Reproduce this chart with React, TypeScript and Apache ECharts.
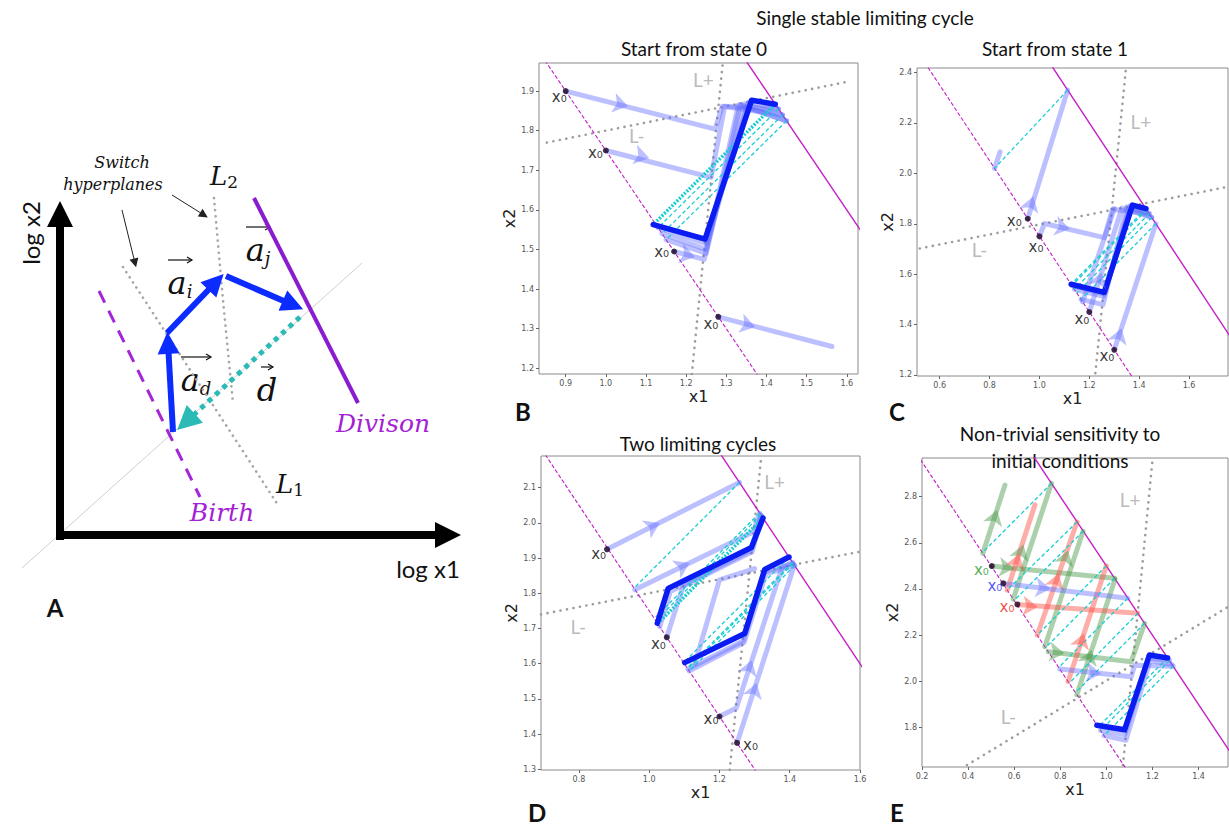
import React, { useEffect, useRef } from "react";
import * as echarts from "echarts";

type Pt = [number, number];

// ---------------- Panel A : schematic (schematic units = canvas px) ----------------
const aAxisY: Pt[] = [[60, 540], [60, 214]];
const aAxisX: Pt[] = [[56, 535], [448, 535]];
const aDiagonal: Pt[] = [[22, 568], [362, 263]];
const aBirth: Pt[] = [[99, 291], [200, 497]];
const aDivision: Pt[] = [[254, 198], [358, 403]];
const aL1: Pt[] = [[123, 267], [278, 505]];
const aL2: Pt[] = [[214, 198], [223, 300], [233, 403]];
const aVecD: Pt[] = [[173, 432], [168, 343]];
const aVecI: Pt[] = [[167, 333], [216, 282]];
const aVecJ: Pt[] = [[226, 276], [293, 305]];
const aVecDiv: Pt[] = [[300, 317], [186, 422]];
const aPointers: Pt[][] = [[[122, 210], [135, 263]], [[172, 195], [204, 215]]];

// ---------------- Panel B : Start from state 0 ----------------
const xTicksB = [0.9, 1.0, 1.1, 1.2, 1.3, 1.4, 1.5, 1.6];
const yTicksB = [1.2, 1.3, 1.4, 1.5, 1.6, 1.7, 1.8, 1.9];
const birthB: Pt[] = [[0.84, 1.99], [1.38, 1.18]];
const divisionB: Pt[] = [[1.34, 1.99], [1.65, 1.525]];
const lPlusB: Pt[] = [[1.214, 1.185], [1.291, 1.97]];
const lMinusB: Pt[] = [[0.853, 1.77], [1.608, 1.925]];
const startsB: Pt[] = [[0.9, 1.9], [1.0, 1.75], [1.17, 1.495], [1.28, 1.33]];
const trajB: Pt[][] = [
  [[0.9, 1.9], [1.272, 1.804], [1.29, 1.862], [1.44, 1.84]],
  [[1.0, 1.75], [1.262, 1.682], [1.296, 1.862], [1.43, 1.855]],
  [[1.17, 1.495], [1.245, 1.475], [1.33, 1.865], [1.45, 1.825]],
  [[1.28, 1.33], [1.563, 1.255]],
  [[1.13, 1.555], [1.25, 1.515], [1.355, 1.872], [1.43, 1.855]],
  [[1.14, 1.54], [1.25, 1.5], [1.345, 1.868], [1.44, 1.84]],
  [[1.15, 1.525], [1.25, 1.49], [1.335, 1.866], [1.45, 1.825]],
];
const cycleB: Pt[][] = [[[1.118, 1.563], [1.247, 1.526], [1.363, 1.877], [1.422, 1.867]]];
const cyanBoldB: Pt[][] = [[[1.422, 1.867], [1.118, 1.563]]];
const cyanB: Pt[][] = [
  [[1.43, 1.855], [1.13, 1.555]],
  [[1.44, 1.84], [1.14, 1.54]],
  [[1.45, 1.825], [1.15, 1.525]],
];
const arrowsB: Pt[][] = [
  [[1.02, 1.8705], [1.055, 1.862]],
  [[1.075, 1.7393], [1.108, 1.731]],
  [[1.19, 1.4895], [1.222, 1.481]],
  [[1.34, 1.313], [1.372, 1.3045]],
];
const lPlusTextB: Pt = [1.243, 1.93];
const lMinusTextB: Pt = [1.077, 1.789];

// ---------------- Panel C : Start from state 1 ----------------
const xTicksC = [0.6, 0.8, 1.0, 1.2, 1.4, 1.6];
const yTicksC = [1.2, 1.4, 1.6, 1.8, 2.0, 2.2, 2.4];
const birthC: Pt[] = [[0.5, 2.5], [1.37, 1.195]];
const divisionC: Pt[] = [[1.0, 2.5], [1.8, 1.3]];
const lPlusC: Pt[] = [[1.224, 1.207], [1.347, 2.418]];
const lMinusC: Pt[] = [[0.52, 1.702], [1.756, 1.947]];
const startsC: Pt[] = [[0.953, 1.82], [1.0, 1.75], [1.2, 1.45], [1.3, 1.3]];
const trajC: Pt[][] = [
  [[0.953, 1.82], [1.113, 2.33]],
  [[0.82, 2.02], [0.842, 2.085]],
  [[1.0, 1.75], [1.02, 1.801], [1.26, 1.745], [1.293, 1.858], [1.44, 1.84]],
  [[1.2, 1.45], [1.33, 1.862], [1.45, 1.825]],
  [[1.3, 1.3], [1.467, 1.8]],
  [[1.167, 1.5], [1.255, 1.479], [1.35, 1.867], [1.45, 1.825]],
  [[1.14, 1.54], [1.258, 1.512], [1.362, 1.87], [1.44, 1.84]],
  [[1.13, 1.555], [1.26, 1.522], [1.368, 1.872], [1.43, 1.855]],
  [[1.173, 1.49], [1.28, 1.8], [1.3, 1.86]],
];
const cycleC: Pt[][] = [[[1.127, 1.56], [1.26, 1.528], [1.373, 1.874], [1.427, 1.86]]];
const cyanBoldC: Pt[][] = [];
const cyanC: Pt[][] = [
  [[1.113, 2.33], [0.82, 2.02]],
  [[1.427, 1.86], [1.127, 1.56]],
  [[1.43, 1.855], [1.13, 1.555]],
  [[1.44, 1.84], [1.14, 1.54]],
  [[1.45, 1.825], [1.15, 1.525]],
  [[1.467, 1.8], [1.167, 1.5]],
];
const arrowsC: Pt[][] = [
  [[0.964, 1.872], [0.975, 1.908]],
  [[1.09, 1.786], [1.122, 1.779]],
  [[1.238, 1.572], [1.249, 1.607]],
  [[1.318, 1.35], [1.329, 1.385]],
];
const lPlusTextC: Pt = [1.407, 2.204];
const lMinusTextC: Pt = [0.76, 1.696];

// ---------------- Panel D : Two limiting cycles ----------------
const xTicksD = [0.8, 1.0, 1.2, 1.4, 1.6];
const yTicksD = [1.3, 1.4, 1.5, 1.6, 1.7, 1.8, 1.9, 2.0, 2.1];
const birthD: Pt[] = [[0.6, 2.35], [1.35, 1.225]];
const divisionD: Pt[] = [[1.12, 2.32], [1.7, 1.45]];
const lPlusD: Pt[] = [[1.229, 1.298], [1.319, 2.19]];
const lMinusD: Pt[] = [[0.692, 1.74], [1.599, 1.918]];
const startsD: Pt[] = [[0.88, 1.925], [1.05, 1.675], [1.2, 1.45], [1.25, 1.375]];
const trajD: Pt[][] = [
  [[0.88, 1.925], [1.257, 2.115]],
  [[0.959, 1.81], [1.297, 1.975], [1.314, 2.028]],
  [[1.05, 1.675], [1.096, 1.82], [1.293, 1.918], [1.32, 2.02]],
  [[1.03, 1.705], [1.06, 1.805], [1.29, 1.922], [1.318, 2.023]],
  [[1.2, 1.45], [1.248, 1.474], [1.378, 1.873], [1.408, 1.888]],
  [[1.25, 1.375], [1.413, 1.88]],
  [[1.13, 1.6], [1.2, 1.838], [1.3, 1.87]],
  [[1.11, 1.585], [1.268, 1.665], [1.326, 1.86], [1.41, 1.885]],
  [[1.114, 1.579], [1.27, 1.66], [1.332, 1.855], [1.414, 1.879]],
];
const cycleD: Pt[][] = [
  [[1.023, 1.715], [1.054, 1.814], [1.291, 1.93], [1.324, 2.014]],
  [[1.101, 1.603], [1.272, 1.686], [1.329, 1.868], [1.398, 1.903]],
];
const cyanBoldD: Pt[][] = [[[1.324, 2.014], [1.024, 1.714]]];
const cyanD: Pt[][] = [
  [[1.257, 2.115], [0.957, 1.815]],
  [[1.314, 2.028], [1.014, 1.728]],
  [[1.318, 2.023], [1.019, 1.722]],
  [[1.398, 1.903], [1.098, 1.603]],
  [[1.408, 1.888], [1.108, 1.588]],
  [[1.41, 1.885], [1.11, 1.585]],
  [[1.414, 1.879], [1.114, 1.579]],
];
const arrowsD: Pt[][] = [
  [[0.995, 1.983], [1.03, 2.0]],
  [[1.08, 1.869], [1.115, 1.886]],
  [[1.281, 1.576], [1.292, 1.61]],
  [[1.295, 1.51], [1.306, 1.545]],
];
const lPlusTextD: Pt = [1.357, 2.117];
const lMinusTextD: Pt = [0.798, 1.705];

// ---------------- Panel E : Non-trivial sensitivity ----------------
const xTicksE = [0.2, 0.4, 0.6, 0.8, 1.0, 1.2, 1.4];
const yTicksE = [1.8, 2.0, 2.2, 2.4, 2.6, 2.8];
const birthE: Pt[] = [[0.15, 3.025], [1.12, 1.57]];
const divisionE: Pt[] = [[0.65, 3.025], [1.6, 1.6]];
const lPlusE: Pt[] = [[1.072, 1.637], [1.201, 2.966]];
const lMinusE: Pt[] = [[0.395, 1.637], [1.529, 2.323]];
const startsE: Pt[] = [[0.503, 2.499], [0.553, 2.424], [0.614, 2.333]];
const greenE: Pt[][] = [
  [[0.503, 2.499], [1.036, 2.446]],
  [[0.464, 2.554], [0.56, 2.85]],
  [[0.596, 2.356], [0.762, 2.857]],
  [[0.733, 2.15], [0.899, 2.65]],
  [[0.872, 1.942], [1.038, 2.443]],
  [[0.748, 2.128], [1.108, 2.085], [1.166, 2.251]],
];
const redE: Pt[][] = [
  [[0.614, 2.333], [1.137, 2.295]],
  [[0.57, 2.395], [0.69, 2.764]],
  [[0.7, 2.2], [0.873, 2.69]],
  [[0.834, 1.999], [1.0, 2.5]],
];
const blueE: Pt[][] = [
  [[0.553, 2.424], [1.093, 2.36]],
  [[0.798, 2.053], [1.108, 2.02], [1.123, 2.07], [1.29, 2.065]],
  [[0.99, 1.765], [1.085, 1.745], [1.19, 2.09], [1.285, 2.072]],
  [[0.975, 1.787], [1.08, 1.77], [1.185, 2.1], [1.275, 2.09]],
];
const cycleE: Pt[][] = [[[0.959, 1.81], [1.079, 1.79], [1.187, 2.114], [1.266, 2.101]]];
const cyanE: Pt[][] = [
  [[0.762, 2.857], [0.462, 2.557]],
  [[0.873, 2.69], [0.57, 2.395]],
  [[0.899, 2.65], [0.6, 2.35]],
  [[1.0, 2.5], [0.7, 2.2]],
  [[1.036, 2.446], [0.736, 2.146]],
  [[1.093, 2.36], [0.793, 2.06]],
  [[1.137, 2.295], [0.839, 1.992]],
  [[1.166, 2.251], [0.866, 1.951]],
  [[1.266, 2.101], [0.965, 1.803]],
  [[1.275, 2.09], [0.975, 1.787]],
  [[1.29, 2.065], [0.99, 1.765]],
];
const greenArrowsE: Pt[][] = [
  [[0.56, 2.493], [0.6, 2.489]],
  [[0.516, 2.71], [0.526, 2.742]],
  [[0.63, 2.56], [0.64, 2.592]],
  [[0.824, 2.535], [0.834, 2.567]],
  [[0.926, 2.105], [0.936, 2.137]],
  [[0.78, 2.126], [0.818, 2.122]],
];
const redArrowsE: Pt[][] = [
  [[0.665, 2.325], [0.703, 2.322]],
  [[0.612, 2.52], [0.622, 2.552]],
  [[0.783, 2.435], [0.793, 2.467]],
  [[0.893, 2.175], [0.903, 2.207]],
];
const blueArrowsE: Pt[][] = [
  [[0.72, 2.405], [0.758, 2.401]],
  [[0.94, 2.037], [0.978, 2.033]],
];
const lPlusTextE: Pt = [1.103, 2.786];
const lMinusTextE: Pt = [0.575, 1.846];

// ---------------- styling ----------------
const LIGHT_BLUE = "rgba(95,105,255,0.42)";
const DARK_BLUE = "#0b1cf2";
const GREEN = "rgba(70,150,70,0.45)";
const RED = "rgba(250,75,65,0.45)";
const CYAN = "#17cdd2";
const MAGENTA = "#c41fc8";
const DOT_GREY = "#9d9d9d";
const SANS = "Lato, 'Open Sans', sans-serif";

function fmt(v: number) {
  return Number(v).toFixed(1);
}

function makeAxes(gi: number, xr: Pt, yr: Pt, xt: number[], yt: number[]) {
  const common = {
    gridIndex: gi,
    type: "value",
    axisLine: { show: false },
    splitLine: { show: false },
    axisTick: { show: true, length: 3, lineStyle: { color: "#666" } },
    axisLabel: { fontSize: 8, color: "#555", fontFamily: "DejaVu Sans", margin: 5, formatter: fmt },
    nameLocation: "middle",
    nameTextStyle: { fontSize: 16, color: "#222", fontFamily: "DejaVu Sans" },
  } as any;
  const x = {
    ...common,
    min: xr[0],
    max: xr[1],
    name: "x1",
    nameGap: 14,
    axisTick: { ...common.axisTick, customValues: xt },
    axisLabel: { ...common.axisLabel, customValues: xt },
  };
  const y = {
    ...common,
    min: yr[0],
    max: yr[1],
    name: "x2",
    nameGap: 17,
    axisTick: { ...common.axisTick, customValues: yt },
    axisLabel: { ...common.axisLabel, customValues: yt },
  };
  return { x, y };
}

interface PanelSpec {
  gi: number;
  birth: Pt[];
  division: Pt[];
  lPlus: Pt[];
  lMinus: Pt[];
  trajGroups: { color: string; lines: Pt[][] }[];
  cycles: Pt[][];
  cyan: Pt[][];
  cyanBold: Pt[][];
  arrowGroups: { color: string; list: Pt[][] }[];
  starts: Pt[];
  startLabel: { pos: string; offset: Pt; color: string }[];
  lPlusText: Pt;
  lMinusText: Pt;
}

function panelSeries(p: PanelSpec): any[] {
  const base = { xAxisIndex: p.gi, yAxisIndex: p.gi, silent: true, clip: true, animation: false };
  const line = (data: Pt[], lineStyle: any, z: number) => ({
    ...base,
    type: "line",
    data,
    symbol: "none",
    showSymbol: false,
    lineStyle,
    z,
  });
  const s: any[] = [];
  s.push(line(p.lPlus, { color: DOT_GREY, width: 2.6, type: [0.1, 6.5], cap: "round" }, 1));
  s.push(line(p.lMinus, { color: DOT_GREY, width: 2.6, type: [0.1, 6.5], cap: "round" }, 1));
  s.push(line(p.birth, { color: MAGENTA, width: 1.1, type: [4, 2] }, 2));
  s.push(line(p.division, { color: MAGENTA, width: 1.4 }, 2));
  p.trajGroups.forEach((g) =>
    g.lines.forEach((l) => s.push(line(l, { color: g.color, width: 5, join: "round", cap: "round" }, 3)))
  );
  p.cyan.forEach((l) => s.push(line(l, { color: CYAN, width: 1.3, type: [4, 2.5] }, 4)));
  p.cyanBold.forEach((l) => s.push(line(l, { color: CYAN, width: 3.5, type: [2, 1.5] }, 4)));
  p.cycles.forEach((l) => s.push(line(l, { color: DARK_BLUE, width: 5.5, join: "round", cap: "round" }, 5)));
  p.arrowGroups.forEach((g) =>
    s.push({
      ...base,
      type: "lines",
      coordinateSystem: "cartesian2d",
      symbol: ["none", "arrow"],
      symbolSize: [14, 15],
      lineStyle: { color: g.color, width: 0, opacity: 1 },
      data: g.list.map((c) => ({ coords: c })),
      z: 6,
    })
  );
  s.push({
    ...base,
    type: "scatter",
    symbol: "circle",
    symbolSize: 6,
    itemStyle: { color: "#1c0420" },
    z: 8,
    data: p.starts.map((pt, i) => ({
      value: pt,
      label: {
        show: true,
        formatter: "x₀",
        position: p.startLabel[i].pos,
        distance: 2,
        offset: p.startLabel[i].offset,
        color: p.startLabel[i].color,
        fontSize: 15,
        fontFamily: "DejaVu Sans",
      },
    })),
  });
  s.push({
    ...base,
    type: "scatter",
    symbolSize: 0,
    z: 7,
    data: [
      { value: p.lPlusText, name: "L+" },
      { value: p.lMinusText, name: "L-" },
    ],
    label: {
      show: true,
      position: "inside",
      formatter: (d: any) => d.name,
      fontSize: 19,
      color: "#a8a8a8",
      fontFamily: SANS,
    },
  });
  return s;
}

const blackLbl = (pos: string, dx: number, dy: number) => ({ pos, offset: [dx, dy] as Pt, color: "#000" });

function buildOption(): any {
  const axB = makeAxes(1, [0.8335, 1.628], [1.1856, 1.971], xTicksB, yTicksB);
  const axC = makeAxes(2, [0.509, 1.756], [1.196, 2.418], xTicksC, yTicksC);
  const axD = makeAxes(3, [0.692, 1.6], [1.298, 2.19], xTicksD, yTicksD);
  const axE = makeAxes(4, [0.2, 1.528], [1.629, 2.967], xTicksE, yTicksE);

  const hiddenX = { gridIndex: 0, type: "value", min: 0, max: 480, show: false };
  const hiddenY = { gridIndex: 0, type: "value", min: 0, max: 826, inverse: true, show: false };

  const aBase = { xAxisIndex: 0, yAxisIndex: 0, silent: true, animation: false };
  const aLine = (data: Pt[], lineStyle: any, z = 2) => ({
    ...aBase,
    type: "line",
    data,
    symbol: "none",
    showSymbol: false,
    lineStyle,
    z,
  });
  const aArrow = (c: Pt[], color: string, width: number, size: any, type: any = "solid", z = 4) => ({
    ...aBase,
    type: "lines",
    coordinateSystem: "cartesian2d",
    symbol: ["none", "triangle"],
    symbolSize: size,
    lineStyle: { color, width, type, opacity: 1, cap: "butt" },
    data: [{ coords: c }],
    z,
  });

  const aSeries = [
    aLine(aDiagonal, { color: "#cfcfcf", width: 1 }, 1),
    aLine(aBirth, { color: "#a526d6", width: 3, type: [13, 9] }),
    aLine(aDivision, { color: "#8a1ccf", width: 4 }),
    aLine(aL1, { color: "#a6a6a6", width: 2.6, type: [0.1, 6], cap: "round" }),
    aLine(aL2, { color: "#a6a6a6", width: 2.6, type: [0.1, 6], cap: "round" }),
    aArrow(aAxisY, "#000", 8, [24, 26]),
    aArrow(aAxisX, "#000", 8, [24, 26]),
    aArrow(aVecDiv, "#2bbab6", 5, [22, 24], [5, 5], 3),
    aArrow(aVecD, "#0b2bff", 6, [19, 22]),
    aArrow(aVecI, "#0b2bff", 6, [19, 22]),
    aArrow(aVecJ, "#0b2bff", 6, [19, 22]),
    ...aPointers.map((c) => aArrow(c, "#222", 1, [7, 9])),
  ];

  const series = [
    ...aSeries,
    ...panelSeries({
      gi: 1,
      birth: birthB,
      division: divisionB,
      lPlus: lPlusB,
      lMinus: lMinusB,
      trajGroups: [{ color: LIGHT_BLUE, lines: trajB }],
      cycles: cycleB,
      cyan: cyanB,
      cyanBold: cyanBoldB,
      arrowGroups: [{ color: LIGHT_BLUE, list: arrowsB }],
      starts: startsB,
      startLabel: [blackLbl("left", 6, 6), blackLbl("left", 2, 2), blackLbl("left", 0, 1), blackLbl("left", 5, 7)],
      lPlusText: lPlusTextB,
      lMinusText: lMinusTextB,
    }),
    ...panelSeries({
      gi: 2,
      birth: birthC,
      division: divisionC,
      lPlus: lPlusC,
      lMinus: lMinusC,
      trajGroups: [{ color: LIGHT_BLUE, lines: trajC }],
      cycles: cycleC,
      cyan: cyanC,
      cyanBold: cyanBoldC,
      arrowGroups: [{ color: LIGHT_BLUE, list: arrowsC }],
      starts: startsC,
      startLabel: [blackLbl("left", -1, 2), blackLbl("left", 9, 11), blackLbl("left", 5, 7), blackLbl("left", 5, 6)],
      lPlusText: lPlusTextC,
      lMinusText: lMinusTextC,
    }),
    ...panelSeries({
      gi: 3,
      birth: birthD,
      division: divisionD,
      lPlus: lPlusD,
      lMinus: lMinusD,
      trajGroups: [{ color: LIGHT_BLUE, lines: trajD }],
      cycles: cycleD,
      cyan: cyanD,
      cyanBold: cyanBoldD,
      arrowGroups: [{ color: LIGHT_BLUE, list: arrowsD }],
      starts: startsD,
      startLabel: [blackLbl("left", 4, 5), blackLbl("left", 4, 7), blackLbl("left", 4, 3), blackLbl("right", 1, 2)],
      lPlusText: lPlusTextD,
      lMinusText: lMinusTextD,
    }),
    ...panelSeries({
      gi: 4,
      birth: birthE,
      division: divisionE,
      lPlus: lPlusE,
      lMinus: lMinusE,
      trajGroups: [
        { color: GREEN, lines: greenE },
        { color: RED, lines: redE },
        { color: LIGHT_BLUE, lines: blueE },
      ],
      cycles: cycleE,
      cyan: cyanE,
      cyanBold: [],
      arrowGroups: [
        { color: GREEN, list: greenArrowsE },
        { color: RED, list: redArrowsE },
        { color: LIGHT_BLUE, list: blueArrowsE },
      ],
      starts: startsE,
      startLabel: [
        { pos: "left", offset: [2, 4], color: "#1f9a2a" },
        { pos: "left", offset: [4, 3], color: "#1f2cff" },
        { pos: "left", offset: [2, 3], color: "#ee1d1d" },
      ],
      lPlusText: lPlusTextE,
      lMinusText: lMinusTextE,
    }),
  ];

  const frame = { show: true, borderColor: "#8a8a8a", borderWidth: 1, backgroundColor: "#fff" };
  const txt = (x: number, y: number, text: string, style: any = {}) => ({
    type: "text",
    x,
    y,
    silent: true,
    style: {
      text,
      fontFamily: SANS,
      fontSize: 19,
      fill: "#111",
      align: "center",
      verticalAlign: "middle",
      ...style,
    },
  });
  const serifIt = { fontFamily: "'DejaVu Serif', serif", fontStyle: "italic" };
  const vecLabel = (x: number, y: number, sub: string, arrowW: number) => [
    txt(x, y, `{v|${sub ? "a" : "d"}}{s|${sub}}`, {
      rich: {
        v: { fontSize: 32, ...serifIt, fill: "#111" },
        s: { fontSize: 18, ...serifIt, fill: "#111", padding: [16, 0, 0, 0] },
      },
    }),
    {
      type: "line",
      silent: true,
      shape: { x1: x - arrowW / 2, y1: y - 23, x2: x + arrowW / 2, y2: y - 23 },
      style: { stroke: "#111", lineWidth: 1.2 },
    },
    {
      type: "polyline",
      silent: true,
      shape: { points: [[x + arrowW / 2 - 5, y - 26], [x + arrowW / 2, y - 23], [x + arrowW / 2 - 5, y - 20]] },
      style: { stroke: "#111", lineWidth: 1.2, fill: null },
    },
  ];
  const lSub = (x: number, y: number, sub: string) =>
    txt(x, y, `{v|L}{s|${sub}}`, {
      rich: {
        v: { fontSize: 26, ...serifIt, fill: "#111" },
        s: { fontSize: 17, fontFamily: "'DejaVu Serif', serif", fill: "#111", padding: [12, 0, 0, 0] },
      },
    });

  const graphic = [
    txt(865, 17, "Single stable limiting cycle"),
    txt(694, 48, "Start from state 0"),
    txt(1055, 48, "Start from state 1"),
    txt(698, 443, "Two limiting cycles"),
    txt(1060, 433, "Non-trivial sensitivity to"),
    txt(1060, 460, "initial conditions"),
    txt(55, 607, "A", { fontWeight: "bold", fontSize: 24 }),
    txt(523, 411, "B", { fontWeight: "bold", fontSize: 24 }),
    txt(897, 411, "C", { fontWeight: "bold", fontSize: 24 }),
    txt(537, 812, "D", { fontWeight: "bold", fontSize: 24 }),
    txt(897, 812, "E", { fontWeight: "bold", fontSize: 24 }),
    { ...txt(30, 233, "log x2", { fontSize: 24 }), rotation: Math.PI / 2 },
    txt(428, 568, "log x1", { fontSize: 24 }),
    txt(122, 162, "Switch", { ...serifIt, fontSize: 16 }),
    txt(113, 184, "hyperplanes", { ...serifIt, fontSize: 16 }),
    lSub(224, 176, "2"),
    lSub(290, 484, "1"),
    txt(383, 423, "Divison", { ...serifIt, fontSize: 25, fill: "#a521d4" }),
    txt(222, 512, "Birth", { ...serifIt, fontSize: 25, fill: "#a521d4" }),
    ...vecLabel(180, 283, "i", 24),
    ...vecLabel(258, 250, "j", 24),
    ...vecLabel(196, 380, "d", 30),
    ...vecLabel(267, 390, "", 12),
  ];

  return {
    animation: false,
    backgroundColor: "#ffffff",
    grid: [
      { left: 0, top: 0, width: 480, height: 826, show: false },
      { left: 539, top: 63, width: 319, height: 311, ...frame },
      { left: 917, top: 68, width: 311, height: 308, ...frame },
      { left: 541, top: 456, width: 319, height: 314, ...frame },
      { left: 922, top: 458, width: 306, height: 309, ...frame },
    ],
    xAxis: [hiddenX, axB.x, axC.x, axD.x, axE.x],
    yAxis: [hiddenY, axB.y, axC.y, axD.y, axE.y],
    series,
    graphic,
  };
}

export default function App() {
  const ref = useRef<HTMLDivElement>(null);
  useEffect(() => {
    if (!ref.current) return;
    const chart = echarts.init(ref.current, undefined, { renderer: "svg" });
    chart.setOption(buildOption());
    return () => chart.dispose();
  }, []);
  return (
    <div
      ref={ref}
      style={{ position: "fixed", left: 0, top: 0, width: 1229, height: 826, background: "#fff" }}
    />
  );
}
